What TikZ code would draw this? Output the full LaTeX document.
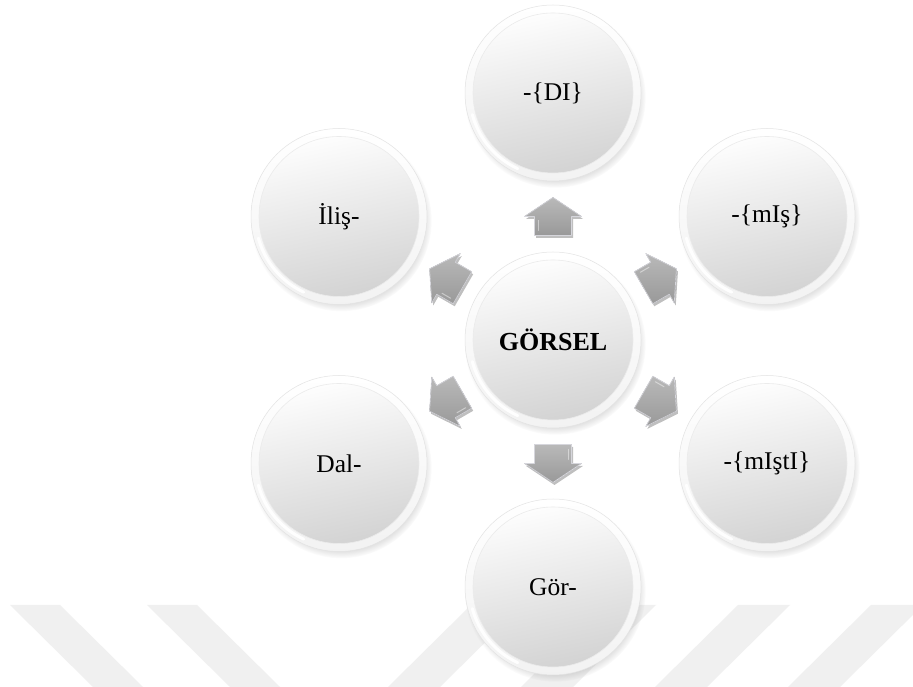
\documentclass[tikz,border=0pt]{standalone}
\usepackage{fontspec}
\setmainfont{Liberation Serif}
\usetikzlibrary{shadows,calc,fadings}
\begin{document}
\begin{tikzpicture}[x=1pt,y=1pt,
  orb/.style={circle, minimum size=176pt, inner sep=0pt,
    circular drop shadow={shadow scale=1.03, shadow xshift=2pt, shadow yshift=-4pt, opacity=0.4},
    top color=white, bottom color=gray!10, draw=gray!22, line width=0.5pt,
    path picture={
      \shade[top color=white, middle color=gray!7, bottom color=gray!36, shading angle=12]
        (path picture bounding box.center) circle (80pt);
      \draw[gray!16, line width=0.6pt] (path picture bounding box.center) circle (80pt);
      \draw[white, line width=3pt, line cap=round, opacity=0.95]
        ([shift={(195:83.5pt)}]path picture bounding box.center) arc (195:245:83.5pt);
    },
    font=\fontsize{25.5}{30}\selectfont},
  blockarrow/.style={top color=gray!55, bottom color=gray!80, draw=blue!8!gray!30,
    line width=0.7pt, line join=round,
    drop shadow={shadow xshift=1.5pt, shadow yshift=-2.5pt, opacity=0.25, fill=black}},
  stripe/.style={fill=gray!12}]

\fill[white] (0,0) rectangle (913,687);
\useasboundingbox (0,0) rectangle (913,687);

% watermark stripes along the lower edge
\foreach \a in {10,147}
  \fill[stripe] (\a,82) -- (\a+50,82) -- (\a+133,0) -- (\a+83,0) -- cycle;
\foreach \a in {388,521,655,788}
  \fill[stripe] (\a,0) -- (\a+52,0) -- (\a+135,82) -- (\a+83,82) -- cycle;

% hub and the six surrounding stems/suffixes
\node[orb, font=\bfseries\fontsize{26}{30}\selectfont] (c) at (553,347) {GÖRSEL};
\node[orb] (di)    at (553,594)   {-\{DI\}};
\node[orb] (mis)   at (767,470.5) {-\{mIş\}};
\node[orb] (misti) at (767,223.5) {-\{mIştI\}};
\node[orb] (gor)   at (553,100)   {Gör-};
\node[orb] (dal)   at (339,223.5) {Dal-};
\node[orb] (ilis)  at (339,470.5) {İliş-};

% block arrows pointing from the hub towards each circle
\foreach \t/\ang in {di/90, mis/30, misti/-30, gor/-90, dal/-150, ilis/150}{
  \fill[blockarrow, shift={($(c)!0.5!(\t)$)}, rotate=\ang]
    (-19,-18.5) -- (0,-18.5) -- (0,-28.5) -- (19,0) -- (0,28.5) -- (0,18.5) -- (-19,18.5) -- cycle;
  \draw[white, opacity=0.45, line width=1pt, line cap=round, shift={($(c)!0.5!(\t)$)}, rotate=\ang]
    (-14,15) -- (-4,15);
}
\end{tikzpicture}
\end{document}
